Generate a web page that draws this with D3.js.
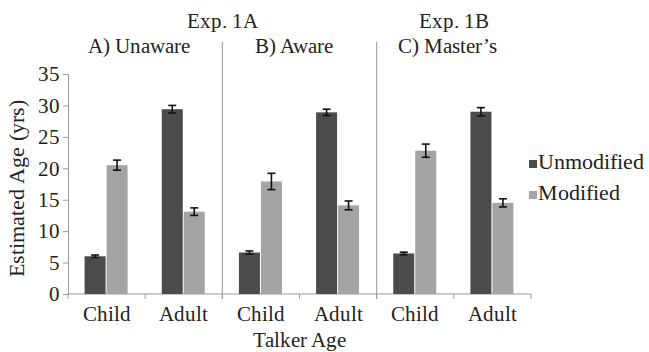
<!DOCTYPE html>
<html>
<head>
<meta charset="utf-8">
<script src="https://cdn.jsdelivr.net/npm/d3@7"></script>
<style>
  @font-face {
    font-family: "ChartSerif";
    src: local("Liberation Serif"), local("LiberationSerif"), local("LiberationSerif-Regular"), local("Tinos");
  }
  body { margin: 0; }
  #chart text { font-family: "ChartSerif", "Liberation Serif", Tinos; fill: #222; }
</style>
</head>
<body>
<svg id="chart" width="649" height="352" font-family="Liberation Serif"></svg>
<script>
// Estimated talker age (years) by condition, talker age and speech type
const experiments = ["Exp. 1A", "Exp. 1B"];
const conditions = ["A) Unaware", "B) Aware", "C) Master\u2019s"];
const talkerAges = ["Child", "Adult"];
const series = ["Unmodified", "Modified"];

// One value per (condition, talker age), in order A-Child, A-Adult, B-Child, ...
const unmodified    = [6.0, 29.4, 6.6, 28.9, 6.45, 29.0];
const unmodifiedErr = [0.2, 0.6, 0.25, 0.5, 0.2, 0.65];
const modified      = [20.5, 13.1, 17.9, 14.1, 22.8, 14.5];
const modifiedErr   = [0.8, 0.6, 1.3, 0.7, 1.05, 0.65];

const yTicks = [0, 5, 10, 15, 20, 25, 30, 35];
const yTitle = "Estimated Age (yrs)";
const xTitle = "Talker Age";

const colors = { Unmodified: "#4b4b4b", Modified: "#a4a4a4" };

const svg = d3.select("#chart");
const plot = { left: 68, right: 531, top: 74, bottom: 294 };

// category keys: condition index + talker age
const keys = [];
conditions.forEach((c, i) => talkerAges.forEach(t => keys.push(i + "|" + t)));

const rows = keys.map((k, i) => ({
  key: k,
  age: k.split("|")[1],
  values: [
    { s: "Unmodified", v: unmodified[i], e: unmodifiedErr[i] },
    { s: "Modified", v: modified[i], e: modifiedErr[i] }
  ]
}));

const x0 = d3.scaleBand().domain(keys).range([plot.left, plot.right])
  .paddingInner(0.43).paddingOuter(0.215);
const x1 = d3.scaleBand().domain(series).range([0, x0.bandwidth()]);
const y = d3.scaleLinear().domain([0, 35]).range([plot.bottom, plot.top]);

const axisColor = "#9a9a9a";

function sized(sel, size) {
  return sel.attr("font-size", size).style("font-size", size + "px");
}

// y axis
const yAxis = svg.append("g")
  .attr("transform", `translate(${plot.left},0)`)
  .call(d3.axisLeft(y).tickValues(yTicks).tickSize(5).tickPadding(3));
yAxis.attr("font-family", null).attr("font-size", null);
yAxis.select(".domain").attr("stroke", axisColor);
yAxis.selectAll(".tick line").attr("stroke", axisColor);
sized(yAxis.selectAll(".tick text"), 21).attr("fill", "#222");

// x axis baseline with ticks between categories
const step = x0.step();
const boundaries = d3.range(keys.length + 1).map(i => plot.left + i * step);
svg.append("line")
  .attr("x1", plot.left).attr("x2", plot.right)
  .attr("y1", y(0)).attr("y2", y(0))
  .attr("stroke", axisColor);
svg.selectAll(".xtick").data(boundaries).join("line")
  .attr("class", "xtick")
  .attr("x1", d => d).attr("x2", d => d)
  .attr("y1", y(0)).attr("y2", y(0) + 5)
  .attr("stroke", axisColor);

// panel dividers
const dividers = d3.range(1, conditions.length).map(i => plot.left + i * talkerAges.length * step);
svg.selectAll(".divider").data(dividers).join("line")
  .attr("class", "divider")
  .attr("x1", d => d).attr("x2", d => d)
  .attr("y1", 42).attr("y2", y(0) + 5)
  .attr("stroke", axisColor);

// bars
const groups = svg.selectAll(".grp").data(rows).join("g")
  .attr("class", "grp")
  .attr("transform", d => `translate(${x0(d.key)},0)`);

groups.selectAll("rect").data(d => d.values).join("rect")
  .attr("x", d => x1(d.s))
  .attr("width", x1.bandwidth() - 1)
  .attr("y", d => y(d.v))
  .attr("height", d => y(0) - y(d.v))
  .attr("fill", d => colors[d.s]);

// error bars
const err = groups.selectAll(".err").data(d => d.values).join("g").attr("class", "err");
err.append("line")
  .attr("x1", d => x1(d.s) + x1.bandwidth() / 2 - 0.5)
  .attr("x2", d => x1(d.s) + x1.bandwidth() / 2 - 0.5)
  .attr("y1", d => y(d.v + d.e)).attr("y2", d => y(d.v - d.e))
  .attr("stroke", "#111").attr("stroke-width", 1.6);
[1, -1].forEach(sign => {
  err.append("line")
    .attr("x1", d => x1(d.s) + x1.bandwidth() / 2 - 4.5)
    .attr("x2", d => x1(d.s) + x1.bandwidth() / 2 + 3.5)
    .attr("y1", d => y(d.v + sign * d.e)).attr("y2", d => y(d.v + sign * d.e))
    .attr("stroke", "#111").attr("stroke-width", 1.6);
});

// talker age labels
sized(svg.selectAll(".xlab").data(rows).join("text")
  .attr("class", "xlab")
  .attr("x", d => x0(d.key) + x0.bandwidth() / 2)
  .attr("y", 321)
  .attr("text-anchor", "middle")
  .text(d => d.age), 21);

// axis titles
sized(svg.append("text")
  .attr("x", 299).attr("y", 347)
  .attr("text-anchor", "middle")
  .text(xTitle), 21);
sized(svg.append("text")
  .attr("transform", "translate(24,188.5) rotate(-90)")
  .attr("text-anchor", "middle")
  .text(yTitle), 22);

// condition titles
const panelW = talkerAges.length * step;
sized(svg.selectAll(".cond").data(conditions).join("text")
  .attr("class", "cond")
  .attr("x", (d, i) => plot.left + (i + 0.5) * panelW - 6)
  .attr("y", 53)
  .attr("text-anchor", "middle")
  .text(d => d), 21);

// experiment titles: 1A spans panels A and B, 1B covers panel C
const expX = [plot.left + panelW, plot.left + 2.5 * panelW];
sized(svg.selectAll(".exp").data(experiments).join("text")
  .attr("class", "exp")
  .attr("x", (d, i) => expX[i])
  .attr("y", 28)
  .attr("text-anchor", "middle")
  .text(d => d), 21);

// legend
const legend = svg.selectAll(".leg").data(series).join("g")
  .attr("class", "leg")
  .attr("transform", (d, i) => `translate(529,${160 + i * 31})`);
legend.append("rect")
  .attr("width", 8).attr("height", 8)
  .attr("fill", d => colors[d]);
sized(legend.append("text")
  .attr("x", 9).attr("y", 8.5)
  .text(d => d), 22);
</script>
</body>
</html>
